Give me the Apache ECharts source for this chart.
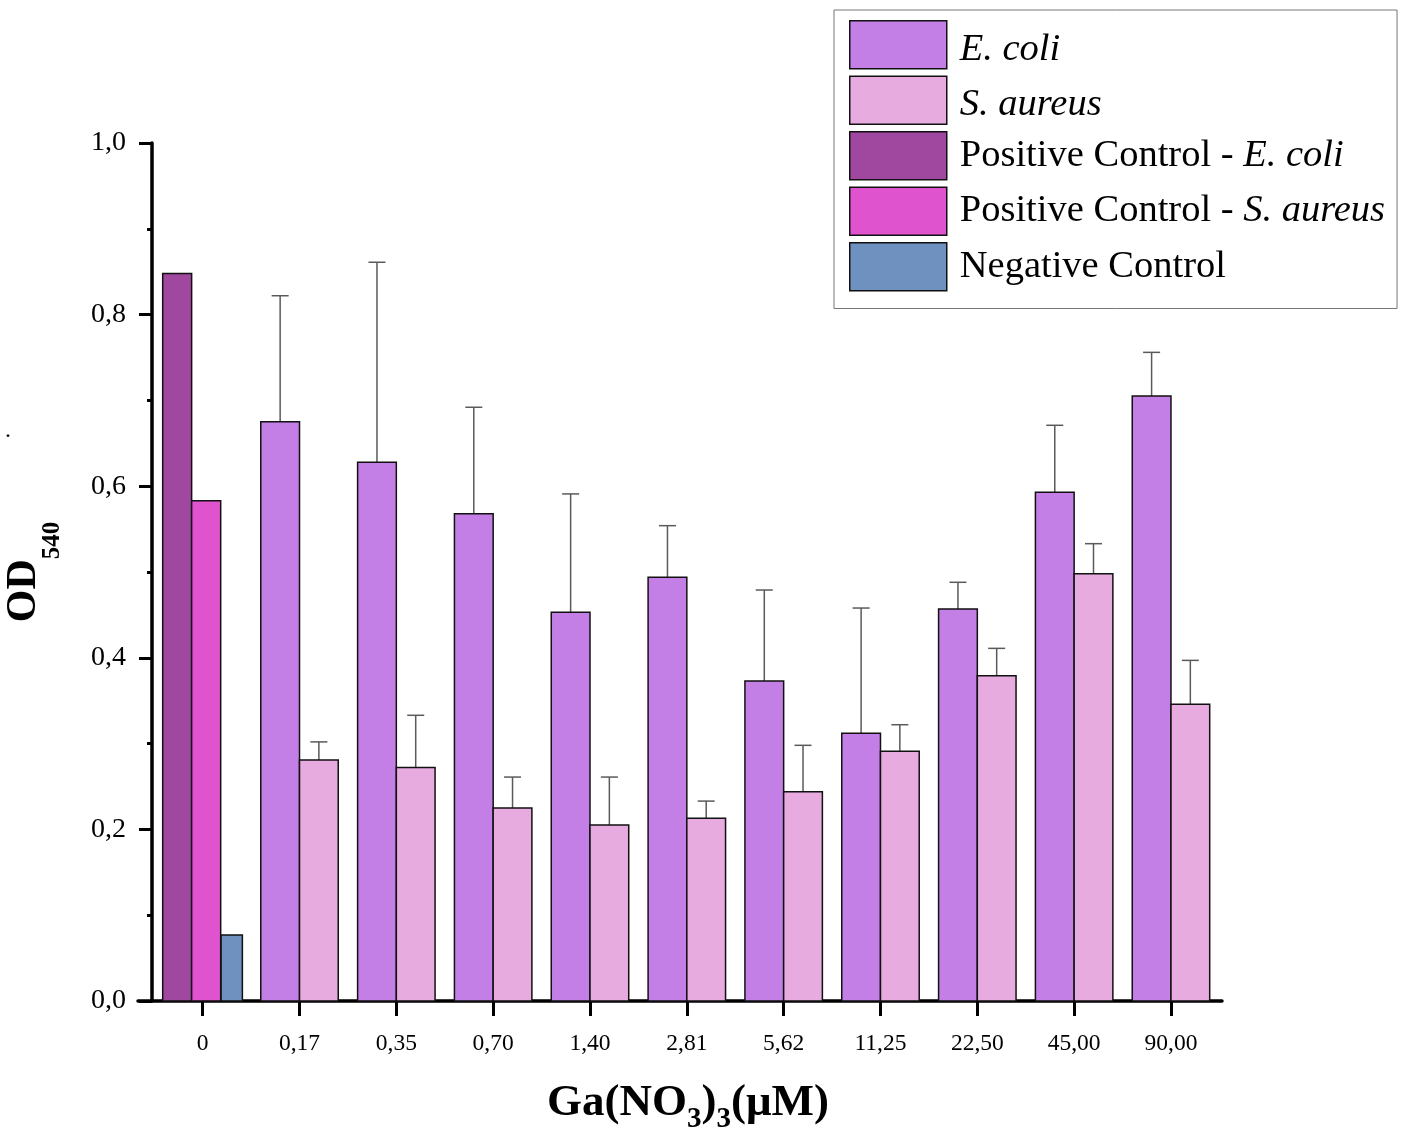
<!DOCTYPE html>
<html><head><meta charset="utf-8">
<script src="https://cdn.jsdelivr.net/npm/echarts@6/dist/echarts.min.js"></script>
<style>html,body{margin:0;padding:0;background:#fff}#c{width:1407px;height:1129px}</style>
</head><body><div id="c"></div>
<script>
const categories = ['0','0,17','0,35','0,70','1,40','2,81','5,62','11,25','22,50','45,00','90,00'];
const ecoliMean     = [null,0.675,0.628,0.568,0.453,0.494,0.373,0.312,0.457,0.593,0.705];
const ecoliErrTop   = [null,0.822,0.861,0.692,0.591,0.554,0.479,0.458,0.488,0.671,0.756];
const saureusMean   = [null,0.281,0.272,0.225,0.205,0.213,0.244,0.291,0.379,0.498,0.346];
const saureusErrTop = [null,0.302,0.333,0.261,0.261,0.233,0.298,0.322,0.411,0.533,0.397];
const posCtrlEcoli   = [0.848];
const posCtrlSaureus = [0.583];
const negCtrl        = [0.077];
const yTicks = [0, 0.2, 0.4, 0.6, 0.8, 1.0];

const seriesNames = ['E. coli','S. aureus','Positive Control - E. coli','Positive Control - S. aureus','Negative Control'];
const legendLabels = {
  'E. coli': '{i1|E. coli}',
  'S. aureus': '{i1|S. aureus}',
  'Positive Control - E. coli': 'Positive Control - {i|E. coli}',
  'Positive Control - S. aureus': 'Positive Control - {i|S. aureus}',
  'Negative Control': 'Negative Control'
};
const colors = ['#c47fe6','#e8abdf','#a0479f','#e053cf','#6e91c0'];

function pairData(mean, err) {
  const out = [];
  mean.forEach((v, i) => { if (v != null) out.push([i, v, err[i]]); });
  return out;
}
function ctrlData(arr) { return arr.map((v, i) => [i, v]); }

function makeRender(f0, f1, color, hasErr) {
  return function (params, api) {
    const cat = api.value(0), v = api.value(1);
    const base = api.coord([cat, 0]);
    const top = api.coord([cat, v]);
    const band = api.size([1, 0])[0];
    const left = base[0] + f0 * band, right = base[0] + f1 * band;
    const children = [];
    if (hasErr) {
      const e = api.coord([cat, api.value(2)]);
      const cx = (left + right) / 2;
      children.push({type:'line', shape:{x1:cx, y1:top[1], x2:cx, y2:e[1]}, style:{stroke:'#5a5a5a', lineWidth:1.5}});
      children.push({type:'line', shape:{x1:cx-8.5, y1:e[1], x2:cx+8.5, y2:e[1]}, style:{stroke:'#5a5a5a', lineWidth:1.5}});
    }
    children.push({type:'rect', shape:{x:left, y:top[1], width:right-left, height:base[1]-top[1]},
      style:{fill:color, stroke:'#111', lineWidth:1.5}});
    return {type:'group', children};
  };
}

const chart = echarts.init(document.getElementById('c'));
const serif = 'Liberation Serif';
const LF = 38.5;
chart.setOption({
  animation: false,
  backgroundColor: '#fff',
  grid: {left: 138, right: 185, top: 143, bottom: 128, containLabel: false, outerBoundsMode: 'none'},
  xAxis: {
    type: 'value', min: -0.668, max: 10.527,
    axisLine: {show: true, onZero: false, lineStyle: {color: '#000', width: 3.5}},
    axisTick: {show: true, length: 15, lineStyle: {color: '#000', width: 3}, customValues: categories.map((c, i) => i)},
    axisLabel: {customValues: categories.map((c, i) => i), formatter: v => categories[Math.round(v)],
      fontFamily: serif, fontSize: 23.5, color: '#000', margin: 31},
    splitLine: {show: false},
    name: '{b|Ga(NO}{s|3}{b|)}{s|3}{b|(μM)}',
    nameLocation: 'middle', nameGap: 77,
    nameTextStyle: {padding: [0, 0, 0, 16], rich: {
      b: {fontFamily: serif, fontWeight: 'bold', fontSize: 45, lineHeight: 50, color: '#000'},
      s: {fontFamily: serif, fontWeight: 'bold', fontSize: 29, lineHeight: 14, padding: [34, 0, 0, 0], color: '#000'}
    }}
  },
  yAxis: {
    type: 'value', min: yTicks[0], max: yTicks[yTicks.length - 1], interval: 0.2, offset: -14,
    axisLine: {show: true, onZero: false, lineStyle: {color: '#000', width: 3.5}},
    axisTick: {show: true, length: 13, lineStyle: {color: '#000', width: 3}},
    minorTick: {show: true, splitNumber: 2, length: 5, lineStyle: {color: '#000', width: 3}},
    axisLabel: {formatter: v => v.toFixed(1).replace('.', ','), fontFamily: serif, fontSize: 28, color: '#000', margin: 26},
    splitLine: {show: false},
    name: '{b|OD}{s|540}',
    nameLocation: 'middle', nameGap: 103,
    nameTextStyle: {rich: {
      b: {fontFamily: serif, fontWeight: 'bold', fontSize: 42, lineHeight: 50, color: '#000'},
      s: {fontFamily: serif, fontWeight: 'bold', fontSize: 25, lineHeight: 14, padding: [58, 0, 0, 0], color: '#000'}
    }}
  },
  legend: {
    orient: 'vertical', left: 834, top: 10,
    padding: [10, 12, 17, 15],
    itemWidth: 97, itemHeight: 48, itemGap: 6,
    icon: 'rect', selectedMode: false,
    backgroundColor: '#fff', borderColor: '#777', borderWidth: 1,
    itemStyle: {borderColor: '#111', borderWidth: 1.5},
    textStyle: {fontFamily: serif, fontSize: LF, color: '#000', padding: [0, 0, 0, 8],
      rich: {
        i: {fontFamily: serif, fontStyle: 'italic', fontSize: LF, color: '#000'},
        i1: {fontFamily: serif, fontStyle: 'italic', fontSize: LF, padding: [10, 0, 0, 0], color: '#000'}
      }},
    formatter: n => legendLabels[n],
    data: seriesNames.map((n, i) => ({name: n, itemStyle: {color: colors[i], borderColor: '#111', borderWidth: 1.5}}))
  },
  graphic: [{type: 'text', left: 5, top: 419, style: {text: '.', font: '24px "Liberation Serif"', fill: '#000'}}],
  series: [
    {type: 'custom', name: seriesNames[0], itemStyle: {color: colors[0]}, clip: false,
      renderItem: makeRender(-0.40, 0, colors[0], true), data: pairData(ecoliMean, ecoliErrTop)},
    {type: 'custom', name: seriesNames[1], itemStyle: {color: colors[1]}, clip: false,
      renderItem: makeRender(0, 0.40, colors[1], true), data: pairData(saureusMean, saureusErrTop)},
    {type: 'custom', name: seriesNames[2], itemStyle: {color: colors[2]}, clip: false,
      renderItem: makeRender(-0.413, -0.114, colors[2], false), data: ctrlData(posCtrlEcoli)},
    {type: 'custom', name: seriesNames[3], itemStyle: {color: colors[3]}, clip: false,
      renderItem: makeRender(-0.114, 0.186, colors[3], false), data: ctrlData(posCtrlSaureus)},
    {type: 'custom', name: seriesNames[4], itemStyle: {color: colors[4]}, clip: false,
      renderItem: makeRender(0.190, 0.410, colors[4], false), data: ctrlData(negCtrl)}
  ]
});
</script></body></html>
